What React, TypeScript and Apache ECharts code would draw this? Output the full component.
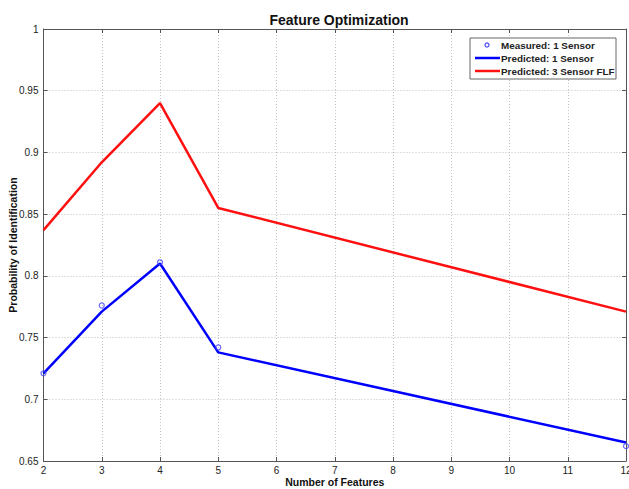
import React, { useEffect, useRef } from "react";
import * as echarts from "echarts";

const features = [2, 3, 4, 5, 12];
const measured1 = [0.721, 0.776, 0.811, 0.742, 0.662];
const predicted1 = [0.721, 0.771, 0.81, 0.738, 0.665];
const predicted3 = [0.837, 0.892, 0.94, 0.855, 0.771];
const legendNames = ["Measured: 1 Sensor", "Predicted: 1 Sensor", "Predicted: 3 Sensor FLF"];

const FONT = "Liberation Sans, Arial, sans-serif";
const BLUE = "#0000ff";
const RED = "#ff1010";

export default function App() {
  const ref = useRef<HTMLDivElement>(null);
  useEffect(() => {
    if (!ref.current) return;
    const chart = echarts.init(ref.current, undefined, { renderer: "svg" });
    const pair = (ys: number[]) => features.map((x, i) => [x, ys[i]]);
    const axisCommon = {
      axisLine: { show: true, lineStyle: { color: "#555", width: 1 } },
      axisTick: { show: true, inside: true, length: 4, lineStyle: { color: "#555" } },
    };
    const lx = 470, ly = 38;
    chart.setOption({
      animation: false,
      title: {
        text: "Feature Optimization",
        left: 334,
        top: 8,
        textAlign: "center",
        textStyle: { fontFamily: FONT, fontSize: 14, fontWeight: "bold", color: "#111" },
      },
      grid: { left: 43.5, right: 3, top: 29, bottom: 28, containLabel: false, outerBoundsMode: "none" },
      xAxis: [
        {
          type: "value",
          min: 2,
          max: 12,
          interval: 1,
          name: "Number of Features",
          nameLocation: "middle",
          nameGap: 15.5,
          nameMoveOverlap: false,
          nameTextStyle: { fontFamily: FONT, fontSize: 10.5, fontWeight: "bold", color: "#111" },
          ...axisCommon,
          axisLabel: { fontFamily: FONT, fontSize: 10, color: "#222", margin: 4, hideOverlap: false },
          splitLine: { show: true, lineStyle: { type: [1, 2], color: "#c0c0c0" } },
        },
        {
          type: "value",
          position: "top",
          min: 2,
          max: 12,
          interval: 1,
          ...axisCommon,
          axisLabel: { show: false },
          splitLine: { show: false },
        },
      ],
      yAxis: [
        {
          type: "value",
          min: 0.65,
          max: 1,
          interval: 0.05,
          name: "Probability of Identification",
          nameLocation: "middle",
          nameGap: 25,
          nameMoveOverlap: false,
          nameTextStyle: { fontFamily: FONT, fontSize: 10.5, fontWeight: "bold", color: "#111" },
          ...axisCommon,
          axisLabel: { fontFamily: FONT, fontSize: 10, color: "#222", margin: 5 },
          splitLine: { show: true, lineStyle: { type: [1, 2], color: "#c0c0c0" } },
        },
        {
          type: "value",
          position: "right",
          min: 0.65,
          max: 1,
          interval: 0.05,
          ...axisCommon,
          axisLabel: { show: false },
          splitLine: { show: false },
        },
      ],
      series: [
        {
          name: legendNames[2],
          type: "line",
          data: pair(predicted3),
          symbol: "none",
          lineStyle: { color: RED, width: 2.5 },
          itemStyle: { color: RED },
        },
        {
          name: legendNames[1],
          type: "line",
          data: pair(predicted1),
          symbol: "none",
          lineStyle: { color: BLUE, width: 2.5 },
          itemStyle: { color: BLUE },
        },
        {
          name: legendNames[0],
          type: "scatter",
          data: pair(measured1),
          symbol: "circle",
          symbolSize: 5,
          clip: false,
          itemStyle: { color: "rgba(255,255,255,0)", borderColor: "#4444ff", borderWidth: 1.2 },
          z: 5,
        },
      ],
      graphic: [
        {
          type: "rect",
          shape: { x: lx, y: ly, width: 146, height: 41 },
          style: { fill: "#fff", stroke: "#666", lineWidth: 1 },
          z: 10,
        },
        {
          type: "circle",
          shape: { cx: lx + 17, cy: ly + 7, r: 2 },
          style: { fill: "#fff", stroke: "#4444ff", lineWidth: 1.2 },
          z: 11,
        },
        {
          type: "line",
          shape: { x1: lx + 5, y1: ly + 20, x2: lx + 30, y2: ly + 20 },
          style: { stroke: BLUE, lineWidth: 2.5 },
          z: 11,
        },
        {
          type: "line",
          shape: { x1: lx + 5, y1: ly + 33, x2: lx + 30, y2: ly + 33 },
          style: { stroke: RED, lineWidth: 2.5 },
          z: 11,
        },
        ...legendNames.map((n, i) => ({
          type: "text",
          x: lx + 31,
          y: ly + 7 + i * 13,
          style: {
            text: n,
            fontFamily: FONT,
            fontSize: 9.9,
            fontWeight: "bold",
            fill: "#222",
            textVerticalAlign: "middle",
            verticalAlign: "middle",
          },
          z: 11,
        })),
      ],
    });
    return () => chart.dispose();
  }, []);
  return (
    <div
      ref={ref}
      style={{ position: "fixed", left: 0, top: 0, width: 629, height: 489, background: "#fff" }}
    />
  );
}
